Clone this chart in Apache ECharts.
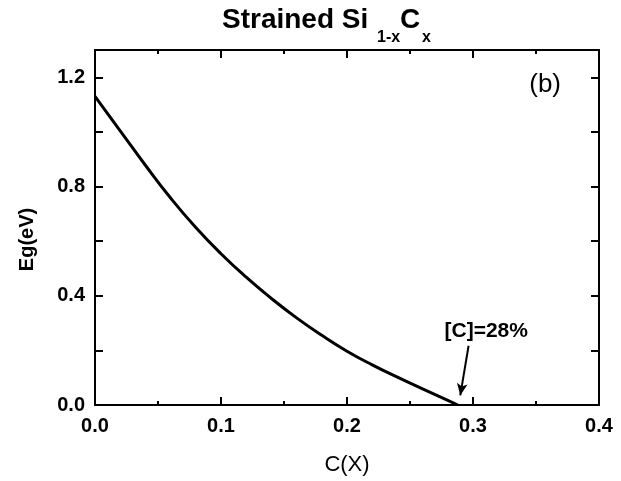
<!DOCTYPE html>
<html>
<head>
<meta charset="utf-8">
<script src="https://cdn.jsdelivr.net/npm/echarts@6/dist/echarts.min.js"></script>
<style>
  html, body { margin: 0; padding: 0; background: #fff; }
  #chart { width: 621px; height: 481px; }
</style>
</head>
<body>
<div id="chart"></div>
<script>
// Carbon fraction and band gap
const carbonX = [0, 0.02, 0.04, 0.06, 0.08, 0.10, 0.12, 0.14, 0.16, 0.18, 0.20, 0.22, 0.24, 0.26, 0.28, 0.288];
const bandGap = [1.13, 1.004, 0.878, 0.758, 0.65, 0.554, 0.468, 0.39, 0.319, 0.255, 0.197, 0.147, 0.102, 0.059, 0.017, 0.0];

// Arrow pointing at the zero crossing, and its label
const arrowFrom = [0.2965, 0.217];
const arrowTo = [0.2899, 0.035];
const noteText = '[C]=28%';
const notePos = [0.3105, 0.269];

const xTicks = { min: 0, max: 0.4, interval: 0.1 };
const yTicks = { min: 0, max: 1.3, interval: 0.2, labelStep: 0.4 };

const font = 'Liberation Sans, Arial, sans-serif';

const yLabel = v => {
    const r = v / yTicks.labelStep;
    return Math.abs(r - Math.round(r)) < 1e-6 ? v.toFixed(1) : '';
};

const chart = echarts.init(document.getElementById('chart'));

const axisLine = { show: true, onZero: false, lineStyle: { color: '#000', width: 2 } };
const tick = { show: true, inside: true, length: 8, lineStyle: { color: '#000', width: 2 } };
const minor = { show: true, splitNumber: 2, length: 4, lineStyle: { color: '#000', width: 2 } };

// title pieces: main text and subscripts
const big = { fontFamily: font, fontSize: 28, fontWeight: 'bold', color: '#000', lineHeight: 28 };
const sub = { fontFamily: font, fontSize: 16, fontWeight: 'bold', color: '#000', lineHeight: 16 };

chart.setOption({
    animation: false,
    backgroundColor: '#fff',
    title: [
        { text: 'Strained Si', left: 222, top: 6, padding: 0, textStyle: big },
        { text: '1-x', left: 377, top: 30, padding: 0, textStyle: sub },
        { text: 'C', left: 400, top: 6, padding: 0, textStyle: big },
        { text: 'x', left: 422, top: 30, padding: 0, textStyle: sub }
    ],
    grid: { left: 95, right: 22, top: 50, bottom: 73 },
    xAxis: [{
        type: 'value',
        min: xTicks.min, max: xTicks.max, interval: xTicks.interval,
        name: 'C(X)',
        nameLocation: 'middle',
        nameGap: 49,
        nameTextStyle: { fontFamily: font, fontSize: 22, color: '#000' },
        axisLine: axisLine,
        axisTick: tick,
        minorTick: minor,
        splitLine: { show: false },
        axisLabel: { fontFamily: font, fontSize: 20, fontWeight: 'bold', color: '#000', margin: 11, formatter: v => v.toFixed(1) }
    }, {
        type: 'value',
        position: 'top',
        min: xTicks.min, max: xTicks.max, interval: xTicks.interval,
        axisLine: axisLine,
        axisTick: tick,
        minorTick: minor,
        splitLine: { show: false },
        axisLabel: { show: false }
    }],
    yAxis: [{
        type: 'value',
        min: yTicks.min, max: yTicks.max, interval: yTicks.interval,
        name: 'Eg(eV)',
        nameLocation: 'middle',
        nameRotate: 90,
        nameGap: 58,
        nameTextStyle: { fontFamily: font, fontSize: 20, fontWeight: 'bold', color: '#000', padding: [0, 24, 0, 0] },
        axisLine: axisLine,
        axisTick: tick,
        splitLine: { show: false },
        axisLabel: { fontFamily: font, fontSize: 20, fontWeight: 'bold', color: '#000', margin: 10, formatter: yLabel }
    }, {
        type: 'value',
        position: 'right',
        min: yTicks.min, max: yTicks.max, interval: yTicks.interval,
        axisLine: axisLine,
        axisTick: tick,
        splitLine: { show: false },
        axisLabel: { show: false }
    }],
    graphic: [{
        type: 'text',
        right: 60,
        top: 72,
        style: { text: '(b)', fontFamily: font, fontSize: 26, fill: '#000' }
    }],
    series: [{
        type: 'line',
        data: carbonX.map((x, i) => [x, bandGap[i]]),
        smooth: true,
        showSymbol: false,
        lineStyle: { color: '#000', width: 3 },
        markLine: {
            silent: true,
            symbol: ['none', 'arrow'],
            symbolSize: [8, 12],
            lineStyle: { color: '#000', width: 2, type: 'solid' },
            label: { show: false },
            data: [[{ coord: arrowFrom }, { coord: arrowTo }]]
        },
        markPoint: {
            silent: true,
            symbol: 'circle',
            symbolSize: 1,
            itemStyle: { color: 'rgba(0,0,0,0)' },
            label: {
                show: true,
                position: 'inside',
                formatter: noteText,
                fontFamily: font, fontSize: 21, fontWeight: 'bold', color: '#000'
            },
            data: [{ coord: notePos }]
        }
    }]
});
</script>
</body>
</html>
